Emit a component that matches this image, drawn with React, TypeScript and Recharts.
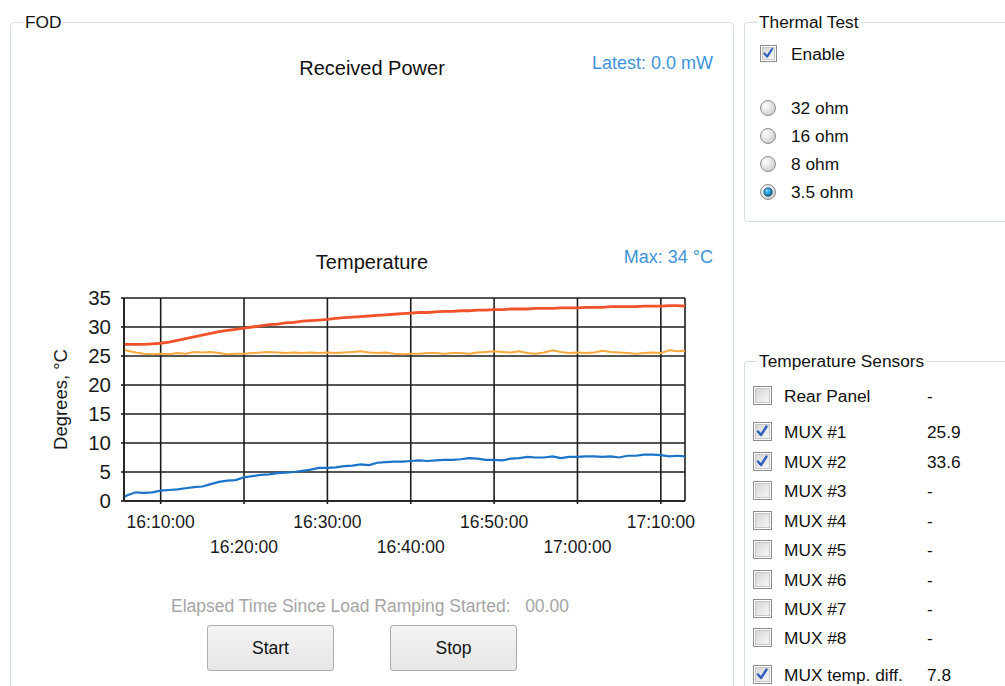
import React from 'react';
import { LineChart, Line, XAxis, YAxis, CartesianGrid } from 'recharts';

// minutes after 16:00:00
const timeMinutes = [
  5.6, 6, 7, 8, 9, 10, 11, 12, 13, 14, 15, 16, 17, 18, 19, 20, 21, 22, 23, 24, 25, 26, 27, 28, 29, 30,
  31, 32, 33, 34, 35, 36, 37, 38, 39, 40, 41, 42, 43, 44, 45, 46, 47, 48, 49, 50, 51, 52, 53, 54, 55,
  56, 57, 58, 59, 60, 61, 62, 63, 64, 65, 66, 67, 68, 69, 70, 71, 72, 72.9,
];

const mux2Values = [
  27.0, 27.0, 27.0, 27.0, 27.1, 27.2, 27.4, 27.7, 28.0, 28.3, 28.6, 28.9, 29.2, 29.4, 29.6, 29.8, 30.0, 30.2, 30.4, 30.5, 30.7, 30.8, 31.0, 31.1, 31.2, 31.3,
  31.5, 31.6, 31.7, 31.8, 31.9, 32.0, 32.1, 32.2, 32.3, 32.4, 32.5, 32.5, 32.6, 32.7, 32.7, 32.8, 32.8, 32.9, 32.9, 33.0, 33.0, 33.1, 33.1, 33.1, 33.2,
  33.2, 33.2, 33.3, 33.3, 33.3, 33.4, 33.4, 33.4, 33.5, 33.5, 33.5, 33.5, 33.6, 33.6, 33.6, 33.7, 33.7, 33.6,
];

const mux1Values = [
  26.1, 25.9, 25.6, 25.4, 25.3, 25.4, 25.3, 25.5, 25.4, 25.7, 25.6, 25.7, 25.5, 25.3, 25.4, 25.4, 25.5, 25.6, 25.7, 25.6, 25.5, 25.6, 25.5, 25.6, 25.5, 25.6,
  25.5, 25.6, 25.7, 25.8, 25.6, 25.5, 25.6, 25.4, 25.3, 25.4, 25.4, 25.5, 25.5, 25.4, 25.5, 25.5, 25.4, 25.6, 25.7, 25.8, 25.7, 25.6, 25.8, 25.5, 25.4,
  25.6, 26.0, 25.7, 25.5, 25.6, 25.5, 25.6, 25.9, 25.7, 25.6, 25.5, 25.4, 25.5, 25.6, 25.5, 26.0, 25.8, 25.9,
];

const diffValues = [
  0.7, 1.0, 1.5, 1.4, 1.5, 1.8, 1.9, 2.0, 2.2, 2.4, 2.5, 2.9, 3.3, 3.5, 3.6, 4.1, 4.3, 4.5, 4.6, 4.8, 4.9, 5.0, 5.2, 5.4, 5.7, 5.7,
  5.8, 6.0, 6.1, 6.3, 6.2, 6.6, 6.7, 6.8, 6.8, 6.9, 7.0, 6.9, 7.0, 7.1, 7.1, 7.2, 7.4, 7.3, 7.1, 7.1, 7.0, 7.3, 7.4, 7.6, 7.5,
  7.5, 7.7, 7.4, 7.6, 7.6, 7.7, 7.7, 7.6, 7.7, 7.5, 7.8, 7.8, 8.0, 8.0, 7.9, 7.7, 7.8, 7.7,
];

const xTicks = [10, 20, 30, 40, 50, 60, 70];
const yTicks = [0, 5, 10, 15, 20, 25, 30, 35];
const xDomain = [5.6, 72.9];

const resistanceOptions = ['32 ohm', '16 ohm', '8 ohm', '3.5 ohm'];
const resistanceSelected = 3;
const sensorNames = ['Rear Panel', 'MUX #1', 'MUX #2', 'MUX #3', 'MUX #4', 'MUX #5', 'MUX #6', 'MUX #7', 'MUX #8', 'MUX temp. diff.'];
const sensorReadings = ['-', '25.9', '33.6', '-', '-', '-', '-', '-', '-', '7.8'];
const sensorChecked = [false, true, true, false, false, false, false, false, false, true];
const sensorRowY = [396, 432, 462, 491, 521, 550, 580, 609, 638, 675];

const data = timeMinutes.map((t, i) => ({ t, mux1: mux1Values[i], mux2: mux2Values[i], diff: diffValues[i] }));

const FONT = '"Liberation Sans", Arial, sans-serif';
const GRID = '#1c1c1c';

const fmtTime = (m: number) => {
  const h = 16 + Math.floor(m / 60);
  const mm = Math.round(m % 60);
  return `${h}:${mm < 10 ? '0' + mm : mm}:00`;
};

const XTick = (props: any) => {
  const { x, y, payload, index } = props;
  const row = index % 2 === 0 ? 16 : 41;
  return (
    <text x={x} y={y + row} textAnchor="middle" dominantBaseline="central" fontSize={17.5} fontFamily={FONT} fill="#1a1a1a">
      {fmtTime(payload.value)}
    </text>
  );
};

const YLabel = (props: any) => {
  const vb = props.viewBox || { x: 0, y: 0, height: 0 };
  const cx = vb.x + 60;
  const cy = vb.y + vb.height / 2;
  return (
    <text x={cx} y={cy} transform={`rotate(-90, ${cx}, ${cy})`} textAnchor="middle" dominantBaseline="central" fontSize={18.5} fontFamily={FONT} fill="#1a1a1a">
      Degrees, °C
    </text>
  );
};

const GroupBox = ({ left, top, width, height, title }: any) => (
  <div style={{ position: 'absolute', left, top, width, height, border: '1px solid #d3dde4', borderRadius: 4 }}>
    <span style={{ position: 'absolute', left: 12, top: -11, background: '#fff', padding: '0 2px', fontSize: 17.3, lineHeight: '20px', color: '#111' }}>{title}</span>
  </div>
);

const CheckBox = ({ left, top, size, checked }: any) => (
  <div style={{ position: 'absolute', left, top, width: size, height: size, boxSizing: 'border-box', border: '1px solid #8c8c8c', background: '#fff' }}>
    <div style={{ position: 'absolute', left: 1, top: 1, right: 1, bottom: 1, border: '1px solid #c6c6c6', background: 'linear-gradient(135deg, #d6d6d6, #f7f7f7)' }} />
    {checked && (
      <svg width={size} height={size} style={{ position: 'absolute', left: -1, top: -1 }} viewBox="0 0 19 19">
        <path d="M5 9.5 L8 13 L13.5 4.5" stroke="#2d5fbd" strokeWidth={2.4} fill="none" strokeLinecap="round" strokeLinejoin="round" />
      </svg>
    )}
  </div>
);

const Radio = ({ cx, cy, selected }: any) => (
  <svg width={18} height={18} style={{ position: 'absolute', left: cx - 9, top: cy - 9 }}>
    <defs>
      <radialGradient id="rg" cx="35%" cy="35%" r="70%">
        <stop offset="0%" stopColor="#ffffff" />
        <stop offset="100%" stopColor="#cccccc" />
      </radialGradient>
      <radialGradient id="rb" cx="40%" cy="35%" r="70%">
        <stop offset="0%" stopColor="#7fd4ff" />
        <stop offset="60%" stopColor="#1b8fcf" />
        <stop offset="100%" stopColor="#0c4c78" />
      </radialGradient>
    </defs>
    <circle cx={9} cy={9} r={7.5} fill="url(#rg)" stroke="#8e8f8f" strokeWidth={1} />
    {selected && <circle cx={9} cy={9} r={4.2} fill="url(#rb)" stroke="#0d4f7c" strokeWidth={0.8} />}
  </svg>
);

const Button = ({ left, top, label }: any) => (
  <div style={{ position: 'absolute', left, top, width: 127, height: 46, boxSizing: 'border-box', border: '1px solid #adadad', borderRadius: 3, background: 'linear-gradient(#f3f3f3, #e6e6e6)', display: 'flex', alignItems: 'center', justifyContent: 'center', fontSize: 17.5, color: '#111' }}>
    {label}
  </div>
);

const Txt = ({ left, cy, children, color = '#111', size = 17.3, anchor = 'left' }: any) => (
  <div style={{ position: 'absolute', top: cy - 12, height: 24, lineHeight: '24px', fontSize: size, color, whiteSpace: 'nowrap', ...(anchor === 'right' ? { right: 1005 - left } : anchor === 'center' ? { left: left - 300, width: 600, textAlign: 'center' } : { left }) }}>
    {children}
  </div>
);

export default function App() {
  return (
    <div style={{ position: 'absolute', left: 0, top: 0, width: 1005, height: 686, overflow: 'hidden', background: '#fff', fontFamily: FONT }}>
      <GroupBox left={10} top={22} width={722} height={720} title="FOD" />
      <GroupBox left={744} top={22} width={300} height={198} title="Thermal Test" />
      <GroupBox left={744} top={361} width={300} height={400} title="Temperature Sensors" />

      <Txt left={372} cy={68} size={20} anchor="center">Received Power</Txt>
      <Txt left={713} cy={63} size={18} color="#3d93d8" anchor="right">Latest: 0.0 mW</Txt>
      <Txt left={372} cy={262} size={20} anchor="center">Temperature</Txt>
      <Txt left={713} cy={257} size={18} color="#3d93d8" anchor="right">Max: 34 °C</Txt>

      <div style={{ position: 'absolute', left: 0, top: 0 }}>
        <LineChart width={720} height={580} data={data} margin={{ top: 298, right: 35, bottom: 19, left: 0 }}>
          <CartesianGrid stroke={GRID} strokeWidth={1.6} />
          <XAxis
            dataKey="t"
            type="number"
            domain={xDomain}
            ticks={xTicks}
            allowDataOverflow
            height={60}
            tickSize={3}
            tickMargin={2}
            axisLine={{ stroke: GRID, strokeWidth: 1.6 }}
            tickLine={{ stroke: GRID, strokeWidth: 1.6 }}
            tick={<XTick />}
            interval={0}
          />
          <YAxis
            type="number"
            domain={[0, 35]}
            ticks={yTicks}
            width={124}
            tickSize={3}
            tickMargin={10}
            axisLine={{ stroke: GRID, strokeWidth: 1.6 }}
            tickLine={{ stroke: GRID, strokeWidth: 1.6 }}
            tick={{ fontSize: 20.5, fill: '#1a1a1a', fontFamily: FONT }}
            interval={0}
            label={<YLabel />}
          />
          <Line type="linear" dataKey="diff" stroke="#1b74c8" strokeWidth={2.2} dot={false} isAnimationActive={false} />
          <Line type="linear" dataKey="mux1" stroke="#f7a93e" strokeWidth={2} dot={false} isAnimationActive={false} />
          <Line type="linear" dataKey="mux2" stroke="#f0522a" strokeWidth={2.8} dot={false} isAnimationActive={false} />
        </LineChart>
      </div>

      <Txt left={370} cy={606} size={17.5} color="#a5a5a5" anchor="center">Elapsed Time Since Load Ramping Started:&nbsp;&nbsp; 00.00</Txt>
      <Button left={207} top={625} label="Start" />
      <Button left={390} top={625} label="Stop" />

      <CheckBox left={760} top={45} size={17} checked />
      <Txt left={791} cy={54}>Enable</Txt>
      {resistanceOptions.map((r, i) => (
        <React.Fragment key={r}>
          <Radio cx={768} cy={107.5 + i * 28} selected={i === resistanceSelected} />
          <Txt left={791} cy={107.5 + i * 28}>{r}</Txt>
        </React.Fragment>
      ))}

      {sensorNames.map((n, i) => (
        <React.Fragment key={n}>
          <CheckBox left={753} top={sensorRowY[i] - 10} size={19} checked={sensorChecked[i]} />
          <Txt left={784} cy={sensorRowY[i]}>{n}</Txt>
          <Txt left={927} cy={sensorRowY[i]}>{sensorReadings[i]}</Txt>
        </React.Fragment>
      ))}
    </div>
  );
}
